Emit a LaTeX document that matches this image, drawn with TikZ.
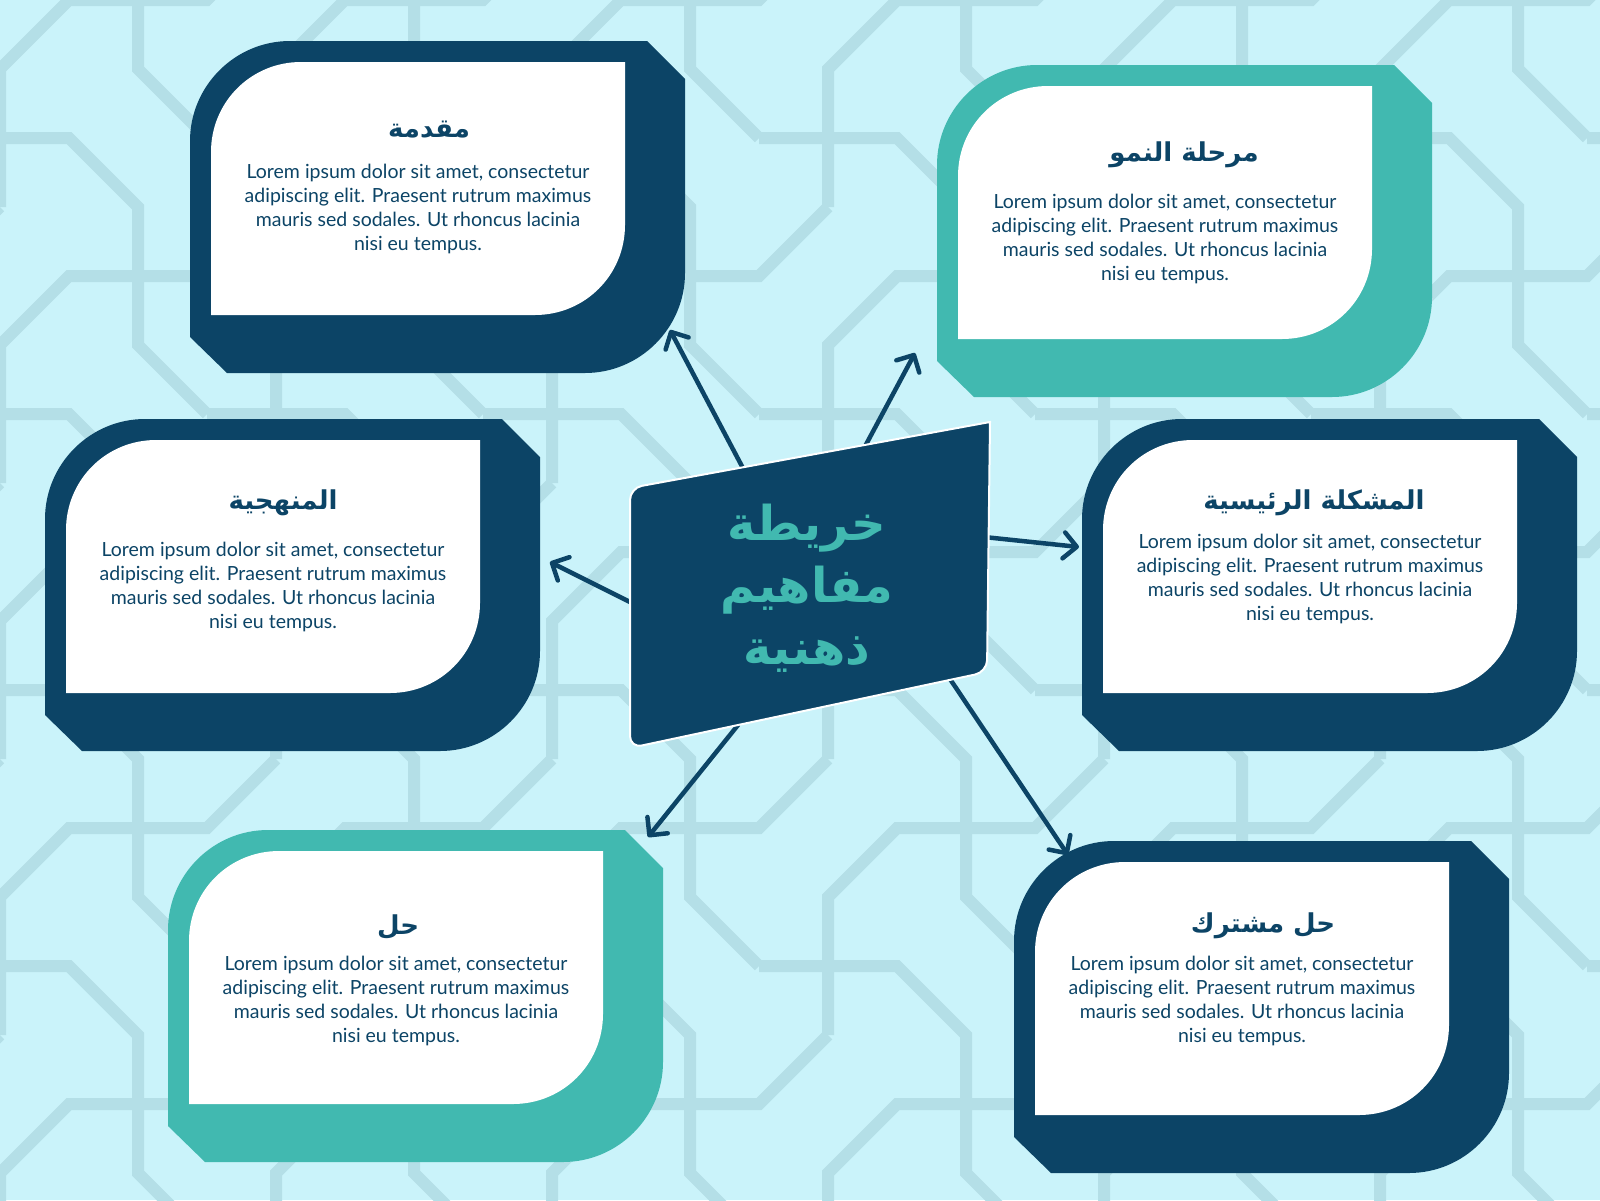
\documentclass[tikz,border=0pt]{standalone}
\usepackage{fontspec}
\setmainfont{Lato}
\newfontfamily\arabicfont[Script=Arabic]{DejaVu Sans}
\TeXXeTstate=1
\usetikzlibrary{arrows.meta}
\definecolor{bgc}{RGB}{202,243,250}
\definecolor{latc}{RGB}{180,223,231}
\definecolor{navyc}{RGB}{12,68,102}
\definecolor{tealc}{RGB}{65,185,176}
\tikzset{
  latline/.style={draw=latc, line width=12pt, line join=miter},
  titletext/.style={text=navyc, font=\arabicfont\bfseries\fontsize{26}{30}\selectfont, inner sep=0pt},
  bodytext/.style={text=navyc, font=\fontsize{19.5}{24}\selectfont, align=center, inner sep=0pt},
  centertext/.style={text=tealc, font=\arabicfont\bfseries\fontsize{48}{62}\selectfont, align=center, inner sep=0pt},
  linkarrow/.style={draw=navyc, line width=4.5pt, line cap=round, -{Straight Barb[length=13pt,width=26pt,round]}}
}
\newcommand\conceptcard[8]{%
  \begin{scope}[shift={(#1,#2)}]
    \fill[#3] (0,100) .. controls (0,45) and (45,0) .. (100,0) -- (457,0) -- (495,38) -- (495,232)
      .. controls (495,287) and (450,332) .. (395,332) -- (37,332) -- (0,296) -- cycle;
    \fill[white] (21,111) .. controls (21,61) and (61,21) .. (111,21) -- (435,21) -- (435,184)
      .. controls (435,234) and (395,274) .. (345,274) -- (21,274) -- cycle;
    \node[titletext] (#4t) at (#5,#6) {#8};
    \node[bodytext] (#4b) at (228,#7) {Lorem ipsum dolor sit amet, consectetur\\adipiscing elit. Praesent rutrum maximus\\mauris sed sodales. Ut rhoncus lacinia\\nisi eu tempus.};
  \end{scope}}
\begin{document}
\begin{tikzpicture}[x=1pt,y=-1pt]
\useasboundingbox (0,0) rectangle (1600,1200);
\fill[bgc] (0,0) rectangle (1600,1200);
\begin{scope}
  \clip (0,0) rectangle (1600,1200);
  \foreach \i in {-1,...,6}{
    \foreach \j in {-1,...,5}{
      \draw[latline] ({276*\i},{276*\j+207}) -- ({276*\i},{276*\j+69}) -- ({276*\i+69},{276*\j}) -- ({276*\i+207},{276*\j}) -- ({276*\i+276},{276*\j-69});
      \draw[latline] ({276*\i-69},{276*\j+138}) -- ({276*\i+69},{276*\j+138}) -- ({276*\i+138},{276*\j+207}) -- ({276*\i+138},{276*\j+345}) -- ({276*\i+207},{276*\j+414});
    }
  }
\end{scope}
% cards
\conceptcard{190}{41}{navyc}{c1}{239}{89}{168}{\beginR مقدمة\endR}
\conceptcard{937}{65}{tealc}{c2}{247}{90}{174}{\beginR مرحلة النمو\endR}
\conceptcard{45}{419}{navyc}{c3}{238}{84}{168}{\beginR المنهجية\endR}
\conceptcard{1082}{419}{navyc}{c4}{232}{84}{160}{\beginR المشكلة الرئيسية\endR}
\conceptcard{168}{830}{tealc}{c5}{230}{97}{171}{\beginR حل\endR}
\conceptcard{1014}{841}{navyc}{c6}{249}{85}{160}{\beginR حل مشترك\endR}
% connectors
\coordinate (s1) at (745,472); \coordinate (t1) at (670,330);
\coordinate (s2) at (862,452); \coordinate (t2) at (915,353);
\coordinate (s3) at (636,605); \coordinate (t3) at (550,562);
\coordinate (s4) at (984,537); \coordinate (t4) at (1079,547);
\coordinate (s5) at (738,725); \coordinate (t5) at (648,837);
\coordinate (s6) at (948,676); \coordinate (t6) at (1068,855);
\foreach \k in {1,...,6}{\draw[linkarrow] (s\k) -- (t\k);}
% center
\path[fill=navyc, draw=white, line width=2pt] (990,422) [rounded corners=12pt] -- (987,672) -- (630,748) -- (630,488) [sharp corners] -- cycle;
\node[centertext] (ctr) at (807,588) {\beginR خريطة\endR\\\beginR مفاهيم\endR\\\beginR ذهنية\endR};
\end{tikzpicture}
\end{document}
